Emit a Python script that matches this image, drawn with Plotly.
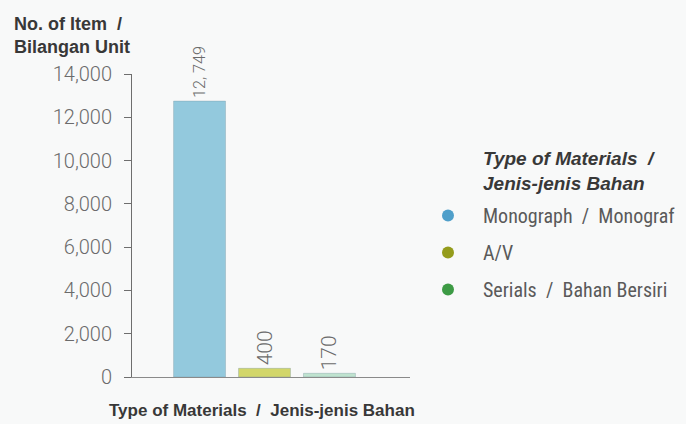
import plotly.graph_objects as go

categories = ["Monograph / Monograf", "A/V", "Serials / Bahan Bersiri"]
legend_names = ["Monograph  /  Monograf", "A/V", "Serials  /  Bahan Bersiri"]
values = [12749, 400, 170]
value_labels = ["12, 749", "400", "170"]
bar_colors = ["#93c9dd", "#d2d66a", "#bfe3cf"]
legend_colors = ["#4f9fca", "#949c1c", "#3d9b45"]
y_ticks = [0, 2000, 4000, 6000, 8000, 10000, 12000, 14000]
y_tick_labels = ["0", "2,000", "4,000", "6,000", "8,000", "10,000", "12,000", "14,000"]

W, H = 686, 424
L, T = 132, 74
R = W - 410
B = H - 377
PW, PH = W - L - R, H - T - B

def px(xp):
    return (xp - L) / PW

def py(yp):
    return (H - B - yp) / PH

fig = go.Figure()
fig.add_trace(go.Bar(
    x=categories, y=values, text=value_labels,
    textposition="outside", textangle=-90,
    textfont=dict(family="Roboto", size=21, color="#6b6b6b", weight=300),
    marker=dict(color=bar_colors, line=dict(color="rgba(120,150,160,0.35)", width=1)),
    width=0.8, showlegend=False, cliponaxis=False,
))
for i, (c, col) in enumerate(zip(legend_names, legend_colors)):
    fig.add_trace(go.Scatter(
        x=[None], y=[None], mode="markers", name=c,
        marker=dict(color=col, size=17, symbol="circle"),
        legendgroup=f"g{i}",
    ))

fig.update_layout(
    width=W, height=H,
    margin=dict(l=L, r=R, t=T, b=B, pad=0, autoexpand=False),
    paper_bgcolor="#f8f9f9", plot_bgcolor="#f8f9f9",
    bargap=0.2,
    xaxis=dict(
        range=[-1.04, 3.24], showticklabels=False, ticks="",
        showgrid=False, zeroline=False, showline=True,
        linecolor="#8a8a8a", linewidth=1,
    ),
    yaxis=dict(
        range=[0, 14000], tickvals=y_ticks, ticktext=y_tick_labels,
        ticks="outside", ticklen=7, tickcolor="#6e6e6e",
        ticklabelstandoff=8,
        showgrid=False, zeroline=False, showline=True,
        linecolor="#6e6e6e", linewidth=1,
        tickfont=dict(family="Roboto", size=20, color="#6b6b6b", weight=300),
    ),
    legend=dict(
        xref="container", yref="container",
        x=413 / W, y=1 - 196 / H,
        xanchor="left", yanchor="top",
        bgcolor="rgba(0,0,0,0)",
        font=dict(family="Liberation Sans Narrow, Roboto Condensed, sans-serif", size=20, color="#5a5a5a"),
        tracegroupgap=8, itemsizing="constant", itemwidth=60,
    ),
    annotations=[
        dict(text="<b>No. of Item  /<br>Bilangan Unit</b>", xref="paper", yref="paper",
             x=px(12), y=py(12),
             xanchor="left", yanchor="top", align="left", showarrow=False,
             font=dict(family="Liberation Sans Narrow, sans-serif", size=18, color="#383838")),
        dict(text="<b>Type of Materials  /  Jenis-jenis Bahan</b>", xref="paper", yref="paper",
             x=px(262), y=py(410),
             xanchor="center", yanchor="middle", showarrow=False,
             font=dict(family="Liberation Sans Narrow, sans-serif", size=17, color="#383838")),
        dict(text="<b><i>Type of Materials  /<br>Jenis-jenis Bahan</i></b>", xref="paper", yref="paper",
             x=px(481), y=py(146),
             xanchor="left", yanchor="top", align="left", showarrow=False,
             font=dict(family="Liberation Sans Narrow, sans-serif", size=19, color="#383838")),
    ],
)

fig.write_html("out.html", config={"displayModeBar": False},
               post_script="document.body.style.margin='0';document.body.style.overflow='hidden';")
